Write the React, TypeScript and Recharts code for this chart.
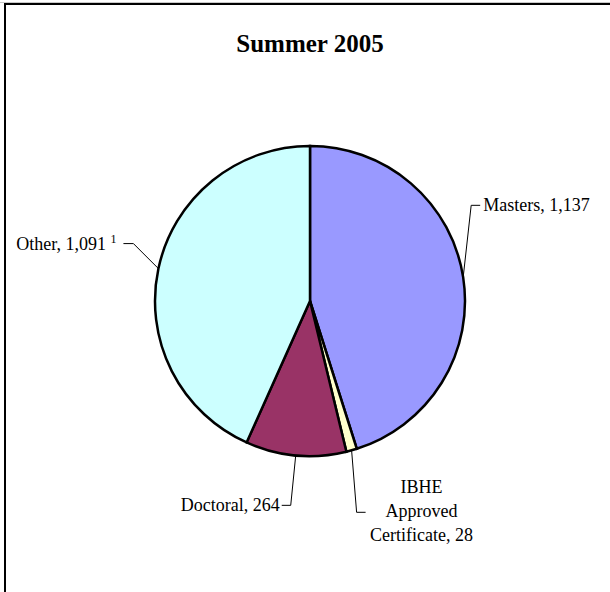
import { Cell, Pie, PieChart } from "recharts";

// Enrollment by program type, Summer 2005
const categories = ["Masters", "IBHE Approved Certificate", "Doctoral", "Other"];
const counts = [1137, 28, 264, 1091];
const colors = ["#9999FF", "#FFFFCC", "#993366", "#CCFFFF"];

const data = categories.map((name, i) => ({ name, value: counts[i] }));

const FONT = '"Liberation Serif", "Times New Roman", serif';
const RADIAN = Math.PI / 180;

type LabelLayout = {
  leader: [number, number][]; // offsets from the slice's mid edge point
  lines: string[];
  x: number;
  y: number;
  anchor: "start" | "middle" | "end";
  sup?: string;
};

// label placement, relative to where each slice's mid-angle meets the rim
const LAYOUT: Record<string, LabelLayout> = {
  Masters: { leader: [[0, 0], [8, -72], [17, -72]], lines: ["Masters, 1,137"], x: 20, y: -66, anchor: "start" },
  "IBHE Approved Certificate": {
    leader: [[0, 0], [5, 62], [14, 62]],
    lines: ["IBHE", "Approved", "Certificate, 28"],
    x: 70,
    y: 43,
    anchor: "middle",
  },
  Doctoral: { leader: [[0, 0], [-5, 50], [-14, 50]], lines: ["Doctoral, 264"], x: -16, y: 56, anchor: "end" },
  Other: { leader: [[0, 0], [-25, -25], [-35, -25]], lines: ["Other, 1,091 "], x: -42, y: -19, anchor: "end", sup: "1" },
};

function renderLabel(props: any) {
  const { cx, cy, midAngle, outerRadius, name } = props;
  const ex = cx + outerRadius * Math.cos(-midAngle * RADIAN);
  const ey = cy + outerRadius * Math.sin(-midAngle * RADIAN);
  const l = LAYOUT[name];
  if (!l) return null;
  const pts = l.leader.map(([dx, dy]) => `${ex + dx},${ey + dy}`).join(" ");
  return (
    <g key={name}>
      <polyline points={pts} fill="none" stroke="#000" strokeWidth={1} />
      <text x={ex + l.x} y={ey + l.y} textAnchor={l.anchor} fontFamily={FONT} fontSize={18} fill="#000">
        {l.lines.map((t, i) => (
          <tspan key={i} x={ex + l.x} dy={i === 0 ? 0 : 24}>
            {t}
            {l.sup && i === l.lines.length - 1 ? (
              <tspan fontSize={12} dy={-7}>
                {l.sup}
              </tspan>
            ) : null}
          </tspan>
        ))}
      </text>
    </g>
  );
}

export default function App() {
  return (
    <div style={{ position: "absolute", left: 0, top: 0, width: 610, height: 592, background: "#fff", overflow: "hidden" }}>
      <div style={{ position: "absolute", left: 0, top: 2, width: 610, height: 1, background: "#c8c8c8" }} />
      <div
        style={{
          position: "absolute",
          left: 4,
          top: 3,
          width: 620,
          height: 600,
          borderLeft: "2px solid #000",
          borderTop: "2px solid #000",
        }}
      />
      <div
        style={{
          position: "absolute",
          left: 0,
          top: 30,
          width: 620,
          textAlign: "center",
          fontFamily: FONT,
          fontWeight: "bold",
          fontSize: 25,
          color: "#000",
        }}
      >
        Summer 2005
      </div>
      <div style={{ position: "absolute", left: 0, top: 0 }}>
        <PieChart width={610} height={592} margin={{ top: 0, right: 0, bottom: 0, left: 0 }}>
          <Pie
            data={data}
            dataKey="value"
            nameKey="name"
            cx={310}
            cy={301}
            outerRadius={155}
            startAngle={90}
            endAngle={-270}
            stroke="#000"
            strokeWidth={2.5}
            label={renderLabel}
            labelLine={false}
            isAnimationActive={false}
          >
            {data.map((d, i) => (
              <Cell key={d.name} fill={colors[i]} />
            ))}
          </Pie>
        </PieChart>
      </div>
    </div>
  );
}
